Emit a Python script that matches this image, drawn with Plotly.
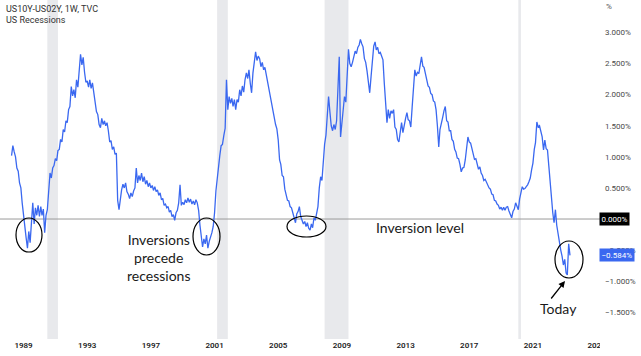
import pandas as pd
import plotly.graph_objects as go

# ---------------- data ----------------
series_start = "1988-04-01"
spread = [
    # 1988 Apr-Dec
    1.02, 1.18, 1.08, 1.00, 0.82, 0.77, 0.58, 0.50, 0.26,
    # 1989
    0.04, -0.14, -0.30, -0.47, -0.20, -0.38, 0.02, 0.26, -0.08, 0.18, 0.06, 0.22,
    # 1990
    0.04, 0.20, 0.06, 0.16, -0.22, 0.06, 0.15, 0.52, 0.74, 0.66, 0.82, 0.86,
    # 1991
    0.97, 0.94, 1.10, 1.12, 1.28, 1.24, 1.44, 1.40, 1.58, 1.55, 1.76, 1.81,
    # 1992
    2.13, 1.98, 2.08, 1.95, 2.24, 2.12, 2.40, 2.65, 2.48, 2.60, 2.36, 2.20,
    # 1993
    2.22, 2.12, 2.24, 2.10, 2.19, 2.02, 1.88, 1.73, 1.68, 1.52, 1.47, 1.62,
    # 1994
    1.52, 1.58, 1.50, 1.55, 1.42, 1.24, 1.26, 1.12, 1.16, 1.04, 1.06, 0.30,
    # 1995
    0.15, 0.34, 0.47, 0.56, 0.50, 0.58, 0.44, 0.40, 0.33, 0.42, 0.36, 0.45,
    # 1996
    0.50, 0.82, 0.58, 0.70, 0.62, 0.74, 0.60, 0.68, 0.56, 0.62, 0.52, 0.58,
    # 1997
    0.50, 0.54, 0.46, 0.52, 0.44, 0.47, 0.38, 0.42, 0.31, 0.33, 0.22, 0.24,
    # 1998
    0.18, 0.20, 0.11, 0.14, 0.04, 0.07, -0.02, 0.10, 0.14, 0.26, 0.55, 0.22,
    # 1999
    0.27, 0.23, 0.31, 0.26, 0.34, 0.27, 0.32, 0.24, 0.29, 0.23, 0.31, 0.26,
    # 2000
    0.14, -0.10, -0.28, -0.45, -0.32, -0.40, -0.26, -0.47, -0.36, -0.30, -0.22, -0.12,
    # 2001
    0.10, 0.45, 0.66, 0.90, 1.02, 1.18, 1.20, 1.34, 1.46, 2.24, 1.76, 1.97,
    # 2002
    1.86, 1.94, 1.81, 1.92, 1.76, 1.92, 1.88, 2.08, 1.98, 2.14, 2.04, 2.24,
    # 2003
    2.35, 2.26, 2.40, 2.18, 2.03, 2.35, 2.52, 2.69, 2.55, 2.62, 2.58, 2.45,
    # 2004
    2.52, 2.40, 2.44, 2.32, 2.26, 2.10, 1.97, 1.84, 1.72, 1.66, 1.52, 1.45,
    # 2005
    1.27, 0.95, 0.88, 0.70, 0.68, 0.48, 0.40, 0.30, 0.29, 0.20, 0.18, 0.08,
    # 2006
    0.02, -0.06, 0.08, 0.12, 0.20, 0.04, -0.02, -0.08, -0.04, -0.12, -0.06, -0.15,
    # 2007
    -0.18, -0.08, -0.14, 0.02, -0.02, 0.10, 0.20, 0.50, 0.68, 0.62, 1.00, 1.20,
    # 2008
    1.35, 1.70, 1.97, 1.72, 1.50, 1.42, 1.52, 1.44, 1.58, 2.08, 2.61, 1.32,
    # 2009
    1.55, 1.71, 1.97, 1.88, 2.40, 2.73, 2.50, 2.45, 2.52, 2.62, 2.70, 2.66,
    # 2010
    2.76, 2.80, 2.89, 2.82, 2.77, 2.58, 2.52, 2.38, 2.16, 2.03, 2.29, 2.62,
    # 2011
    2.78, 2.85, 2.72, 2.76, 2.66, 2.68, 2.62, 2.56, 2.18, 1.90, 1.55, 1.76,
    # 2012
    1.62, 1.74, 1.70, 1.76, 1.48, 1.44, 1.28, 1.24, 1.42, 1.55, 1.39, 1.52,
    # 2013
    1.62, 1.71, 1.60, 1.58, 1.48, 1.80, 2.14, 2.40, 2.30, 2.36, 2.34, 2.50,
    # 2014
    2.61, 2.46, 2.44, 2.34, 2.26, 2.14, 2.12, 2.02, 2.00, 1.90, 1.88, 1.76,
    # 2015
    1.50, 1.16, 1.44, 1.52, 1.63, 1.74, 1.81, 1.58, 1.56, 1.42, 1.42, 1.28,
    # 2016
    1.25, 1.12, 1.08, 0.98, 0.97, 0.88, 0.76, 0.82, 0.83, 0.95, 1.10, 1.32,
    # 2017
    1.24, 1.22, 1.14, 1.06, 0.96, 0.97, 0.86, 0.80, 0.84, 0.74, 0.70, 0.62,
    # 2018
    0.64, 0.58, 0.56, 0.50, 0.48, 0.40, 0.39, 0.30, 0.29, 0.24, 0.22, 0.16,
    # 2019
    0.19, 0.14, 0.19, 0.14, 0.19, 0.20, 0.13, 0.08, 0.02, 0.12, 0.16, 0.26,
    # 2020
    0.20, 0.15, 0.32, 0.44, 0.52, 0.48, 0.49, 0.52, 0.55, 0.60, 0.66, 0.79,
    # 2021
    0.90, 1.12, 1.23, 1.56, 1.48, 1.50, 1.38, 1.32, 1.11, 1.27, 1.13, 1.11,
    # 2022
    0.85, 0.55, 0.30, 0.10, -0.06, 0.15, -0.10, -0.25, -0.35, -0.50, -0.60, -0.74,
    # 2023 Jan-May
    -0.65, -0.87, -0.90, -0.40, -0.584,
]
last_value = -0.584

recession_start = ["1990-07-01", "2001-03-01", "2007-12-01", "2020-02-01"]
recession_end = ["1991-03-01", "2001-11-01", "2009-06-01", "2020-04-01"]

x_tick_years = ["1989", "1993", "1997", "2001", "2005", "2009", "2013", "2017", "2021", "2025"]
# the 0.000% level is shown by the black marker box instead of a plain tick label
y_tick_values = [-1.5, -1.0, -0.5, 0.5, 1.0, 1.5, 2.0, 2.5, 3.0]
y_tick_labels = ["−1.500%", "−1.000%", "−0.500%", "0.500%",
                 "1.000%", "1.500%", "2.000%", "2.500%", "3.000%"]
zero_level = 0.0

# ---------------- layout helpers ----------------
W, H = 641, 356
PW, PH = 598, 339          # plot area in pixels (margins r=43, b=17)
BLUE = "#3A68F0"
UI_FONT = "Roboto"
NOTE_FONT = "Lato"


def px(x):
    return x / PW


def py(y):
    return 1 - y / PH


dates = pd.date_range(series_start, periods=len(spread), freq="MS")

fig = go.Figure()
fig.add_trace(go.Scatter(
    x=dates, y=spread, mode="lines",
    line=dict(color=BLUE, width=1.3),
    hoverinfo="skip", showlegend=False,
))

shapes = []
for s, e in zip(recession_start, recession_end):
    shapes.append(dict(type="rect", xref="x", yref="paper", x0=s, x1=e, y0=0, y1=1,
                       fillcolor="#E8E9EC", line=dict(width=0), layer="below"))
# zero (inversion) line
shapes.append(dict(type="line", xref="paper", yref="y", x0=0, x1=px(600),
                   y0=zero_level, y1=zero_level,
                   line=dict(color="#9A9A9A", width=1), layer="below"))
# hand-drawn ellipses
for (x0, y0, x1, y1) in [(16, 218, 42, 252), (193, 218, 220, 255),
                         (287, 216, 326, 237), (555, 241, 583, 278)]:
    shapes.append(dict(type="circle", xref="paper", yref="paper",
                       x0=px(x0), x1=px(x1), y0=py(y1), y1=py(y0),
                       line=dict(color="black", width=1.2), layer="above"))
# price-scale pane hides the last date label
shapes.append(dict(type="rect", xref="paper", yref="paper",
                   x0=px(600), x1=px(W + 5), y0=py(H + 5), y1=py(341),
                   fillcolor="white", line=dict(width=0), layer="above"))

annotations = [
    dict(text="US10Y-US02Y, 1W, TVC", xref="paper", yref="paper", x=px(4), y=py(9),
         xanchor="left", yanchor="middle", showarrow=False,
         font=dict(family=UI_FONT, size=9, color="#333333")),
    dict(text="US Recessions", xref="paper", yref="paper", x=px(4), y=py(20),
         xanchor="left", yanchor="middle", showarrow=False,
         font=dict(family=UI_FONT, size=9, color="#333333")),
    dict(text="%", xref="paper", yref="paper", x=px(609), y=py(7),
         xanchor="center", yanchor="middle", showarrow=False,
         font=dict(family=UI_FONT, size=8, color="#555555")),
    dict(text=f"{zero_level:.3f}%", xref="paper", yref="y", x=px(599), y=zero_level,
         xanchor="left", yanchor="middle", showarrow=False, bgcolor="black",
         borderpad=1.5, font=dict(family=UI_FONT, size=8, color="white")),
    dict(text=f"{last_value:.3f}%".replace("-", "−"), xref="paper", yref="y", x=px(599),
         y=last_value, xanchor="left", yanchor="middle", showarrow=False, bgcolor=BLUE,
         borderpad=1.5, font=dict(family=UI_FONT, size=8, color="white")),
    dict(text="Inversions<br>precede<br>recessions", xref="paper", yref="paper",
         x=px(158), y=py(257), xanchor="center", yanchor="middle", showarrow=False,
         font=dict(family=NOTE_FONT, size=14, color="#1a1a1a")),
    dict(text="Inversion level", xref="paper", yref="paper",
         x=px(420), y=py(227), xanchor="center", yanchor="middle", showarrow=False,
         font=dict(family=NOTE_FONT, size=14, color="#1a1a1a")),
    dict(text="Today", xref="paper", yref="paper",
         x=px(558), y=py(308), xanchor="center", yanchor="middle", showarrow=False,
         font=dict(family=NOTE_FONT, size=14, color="#1a1a1a")),
    dict(text="", xref="paper", yref="paper", x=px(565), y=py(281),
         ax=-15, ay=19, showarrow=True, arrowhead=2, arrowsize=1,
         arrowwidth=1.3, arrowcolor="black"),
]

fig.update_layout(
    width=W, height=H,
    margin=dict(l=0, r=W - PW, t=0, b=H - PH),
    paper_bgcolor="white", plot_bgcolor="white",
    shapes=shapes, annotations=annotations,
    xaxis=dict(type="date", range=["1987-07-11", "2025-02-02"],
               tickvals=[f"{y}-01-01" for y in x_tick_years], ticktext=x_tick_years,
               showgrid=False, zeroline=False, showline=False, ticks="",
               tickfont=dict(family=UI_FONT, size=8, color="#222222", weight=600)),
    yaxis=dict(range=[-1.93, 3.523], side="right",
               tickvals=y_tick_values, ticktext=y_tick_labels,
               showgrid=False, zeroline=False, showline=False, ticks="",
               ticklabelstandoff=6,
               tickfont=dict(family=UI_FONT, size=8, color="#4A4A4A")),
    showlegend=False,
)

fig.write_html("out.html", config={"displayModeBar": False},
               post_script="document.body.style.margin='0';document.body.style.overflow='hidden';")
